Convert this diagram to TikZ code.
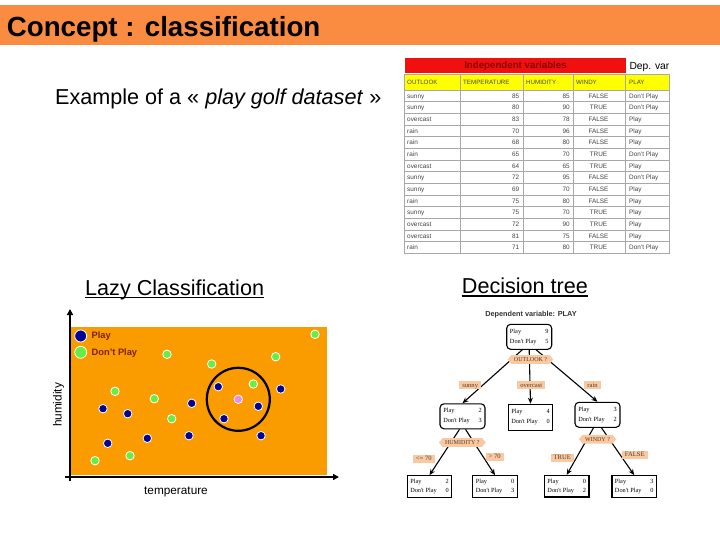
\documentclass[tikz,border=0pt]{standalone}
\usepackage{fontspec}
\setmainfont{Liberation Sans}
\newfontfamily\tfont{Liberation Serif}
\usetikzlibrary{arrows.meta,shapes.symbols,calc}
\definecolor{titlebar}{HTML}{F98C40}
\definecolor{plotbg}{HTML}{FA9B00}
\definecolor{ptgreen}{HTML}{66EE44}
\definecolor{ptblue}{HTML}{000099}
\definecolor{ptpink}{HTML}{F08AE8}
\definecolor{legtxt}{HTML}{7A2200}
\definecolor{hdred}{HTML}{F01010}
\definecolor{hdtxt}{HTML}{8A0000}
\definecolor{hdyel}{HTML}{FFFF00}
\definecolor{gridc}{HTML}{A8A8A8}
\definecolor{celltxt}{HTML}{444444}
\definecolor{peach}{HTML}{F8C9A2}
\definecolor{peachtxt}{HTML}{5A3A20}
\newcommand\fs[1]{\fontsize{#1}{#1}\selectfont}
\newcommand\cnts[3]{\parbox{38.5pt}{\tfont\fontsize{6.3}{#3}\selectfont Play\hfill #1\\Don't Play\hfill #2}}
\begin{document}
\begin{tikzpicture}[x=1pt,y=-1pt,
  heading/.style={anchor=base west, inner sep=0, font=\fs{21.6}},
  hcell/.style={anchor=base west, inner sep=0, font=\fs{6.2}, text=celltxt},
  tcell/.style={inner sep=0, font=\fs{6.4}, text=celltxt},
  dot/.style={circle, fill=#1, draw=white, line width=0.8pt, inner sep=0, minimum size=8.5pt},
  bigdot/.style={circle, fill=#1, draw=white, line width=0.8pt, inner sep=0, minimum size=12pt},
  legend/.style={anchor=west, inner sep=0, font=\bfseries\fs{9.3}, text=legtxt},
  axisline/.style={line width=2.2pt, -{Triangle[length=6pt,width=6pt]}},
  rbox/.style={draw, line width=1.1pt, rounded corners=4pt, minimum width=45pt, minimum height=25pt, inner sep=0, fill=white},
  sbox/.style={draw, line width=1.1pt, minimum width=44.5pt, minimum height=26pt, inner sep=0, fill=white},
  lbox/.style={draw, line width=1.1pt, minimum width=44.5pt, minimum height=21.6pt, inner sep=0, fill=white},
  arr/.style={-{Stealth[length=6pt,width=5pt]}, line width=1.1pt},
  dlab/.style={shape=signal, signal to=east and west, signal pointer angle=100, fill=peach, text=peachtxt, font=\tfont\fs{6}, inner xsep=2.5pt, inner ysep=2pt, text height=4.3pt, text depth=0.5pt},
  elab/.style={fill=peach, text=peachtxt, font=\tfont\fs{6.6}, inner xsep=3pt, inner ysep=1pt, text height=4.8pt, text depth=1.2pt}
]
\useasboundingbox (0,0) rectangle (720,540);
\fill[white] (0,0) rectangle (720,540);

% title
\fill[titlebar] (0,5) rectangle (720,45.5);
\node[anchor=base west, inner sep=0, font=\bfseries\fs{27.7}] (title) at (6.7,36.7) {Concept : classification};

\node[heading] (ex) at (55,105) {Example of a « \textit{play golf dataset} »};

\node[heading] (lazy) at (85,295.3) {Lazy Classification};
\draw[line width=1.3pt] ($(lazy.base west)+(0,2.2)$) -- ($(lazy.base east)+(0,2.2)$);
\node[heading] (dtree) at (461.7,293.6) {Decision tree};
\draw[line width=1.3pt] ($(dtree.base west)+(0,2.4)$) -- ($(dtree.base east)+(0,2.4)$);

% table
\fill[hdred] (405,58.3) rectangle (626,73.3);
\node[font=\bfseries\fs{9.7}, text=hdtxt, inner sep=0] (indep) at (515.5,65.8) {Independent variables};
\node[font=\fs{10.3}, anchor=base west, inner sep=0] (dep) at (629.3,69.5) {Dep. var};
\fill[hdyel] (404,74) rectangle (669,90);
\node[hcell] (h1) at (407,84.3) {OUTLOOK};
\node[hcell] (h2) at (463,84.3) {TEMPERATURE};
\node[hcell] (h3) at (526,84.3) {HUMIDITY};
\node[hcell] (h4) at (576,84.3) {WINDY};
\node[hcell] (h5) at (629,84.3) {PLAY};
\foreach \i in {1,...,13} \draw[gridc, line width=0.5pt] (404,90+\i*11.67) -- (669,90+\i*11.67);
\foreach \x in {460,523,573,625} \draw[gridc, line width=0.5pt] (\x,74) -- (\x,253.4);
\draw[gridc, line width=0.5pt] (404,74) rectangle (669,253.4);
\draw[gridc, line width=0.5pt] (404,90) -- (669,90);
\foreach \o/\t/\h/\w/\p [count=\i] in {
  sunny/85/85/FALSE/Don't Play, sunny/80/90/TRUE/Don't Play, overcast/83/78/FALSE/Play,
  rain/70/96/FALSE/Play, rain/68/80/FALSE/Play, rain/65/70/TRUE/Don't Play,
  overcast/64/65/TRUE/Play, sunny/72/95/FALSE/Don't Play, sunny/69/70/FALSE/Play,
  rain/75/80/FALSE/Play, sunny/75/70/TRUE/Play, overcast/72/90/TRUE/Play,
  overcast/81/75/FALSE/Play, rain/71/80/TRUE/Don't Play}{
  \pgfmathsetmacro\yb{90+(\i-0.5)*11.67+2.3}
  \node[tcell, anchor=base west] (c\i a) at (407,\yb) {\o};
  \node[tcell, anchor=base east] (c\i b) at (519.5,\yb) {\t};
  \node[tcell, anchor=base east] (c\i c) at (570,\yb) {\h};
  \node[tcell, anchor=base] (c\i d) at (598.5,\yb) {\w};
  \node[tcell, anchor=base west] (c\i e) at (629,\yb) {\p};
}

% scatter plot
\fill[plotbg] (71,327) rectangle (327,475);
\node[bigdot=ptblue] (lp) at (80.7,336) {};
\node[bigdot=ptgreen] (ld) at (80.7,352.3) {};
\node[legend] (lpt) at (91.5,336.5) {Play};
\node[legend] (ldt) at (91.5,352.8) {Don't Play};
\foreach \x/\y [count=\i] in {315/334.3, 167/354.3, 275.7/356.7, 211.7/364, 253.3/384, 115/391.3, 154.3/398.7, 171.7/418.7, 130/455.7, 95/460.7}
  \node[dot=ptgreen] (g\i) at (\x,\y) {};
\foreach \x/\y [count=\i] in {218.3/386.7, 280.7/389, 191.7/403.3, 103/408.7, 127.7/413.7, 258.3/406.3, 224/418.7, 147.3/438.3, 189/435.7, 261/435.7, 107.7/443.3}
  \node[dot=ptblue] (b\i) at (\x,\y) {};
\node[dot=ptpink] (query) at (238.3,399.3) {};
\node[draw, circle, line width=2.2pt, minimum size=63pt, inner sep=0] (knn) at (238.3,399.3) {};
\coordinate (ybot) at (70,481);
\coordinate (ytop) at (70,309);
\coordinate (xleft) at (65,477);
\coordinate (xright) at (339,477);
\draw[axisline] (ybot) -- (ytop);
\draw[axisline] (xleft) -- (xright);
\node[rotate=90, font=\fs{11.8}] (hum) at (58.5,405) {humidity};
\node[font=\fs{11.8}] (temp) at (176,492) {temperature};

% decision tree
\node[font=\bfseries\fs{7.3}, text=black!80] (dv) at (531,315) {Dependent variable: PLAY};
\node[rbox] (root) at (529.2,336.8) {\cnts{9}{5}{10}};
\node[rbox] (l1) at (462.5,416.3) {\cnts{2}{3}{10}};
\node[sbox] (m1) at (530.5,417.2) {\cnts{4}{0}{10}};
\node[rbox] (r1) at (597.5,414.8) {\cnts{3}{2}{10}};
\node[lbox] (ll) at (429.5,486.5) {\cnts{2}{0}{9}};
\node[lbox] (lr) at (495,486.5) {\cnts{0}{3}{9}};
\node[lbox] (rl) at (566.7,486.2) {\cnts{0}{2}{9}};
\node[lbox] (rr) at (634.2,486.5) {\cnts{3}{0}{9}};
\draw[arr] ($(root.south)+(-7,0)$) -- (l1.north);
\draw[arr] (root.south) -- (m1.north);
\draw[arr] ($(root.south)+(7,0)$) -- (r1.north);
\draw[arr] ($(l1.south)+(-3,0)$) -- (ll.north);
\draw[arr] ($(l1.south)+(3,0)$) -- (lr.north);
\draw[arr] ($(r1.south)+(-4,0)$) -- (rl.north);
\draw[arr] ($(r1.south)+(4,0)$) -- (rr.north);
\node[dlab] (q1) at (530.5,359.5) {OUTLOOK ?};
\node[dlab] (q2) at (462.3,442.5) {HUMIDITY ?};
\node[dlab] (q3) at (597.5,439.2) {WINDY ?};
\node[elab] (e1) at (470.2,385.3) {sunny};
\node[elab] (e2) at (531.3,385.3) {overcast};
\node[elab] (e3) at (592.5,385.3) {rain};
\node[elab] (e4) at (423.8,458.7) {<= 70};
\node[elab] (e5) at (494.7,457) {> 70};
\node[elab] (e6) at (562.2,457.5) {TRUE};
\node[elab] (e7) at (634.7,455) {FALSE};
\end{tikzpicture}
\end{document}
